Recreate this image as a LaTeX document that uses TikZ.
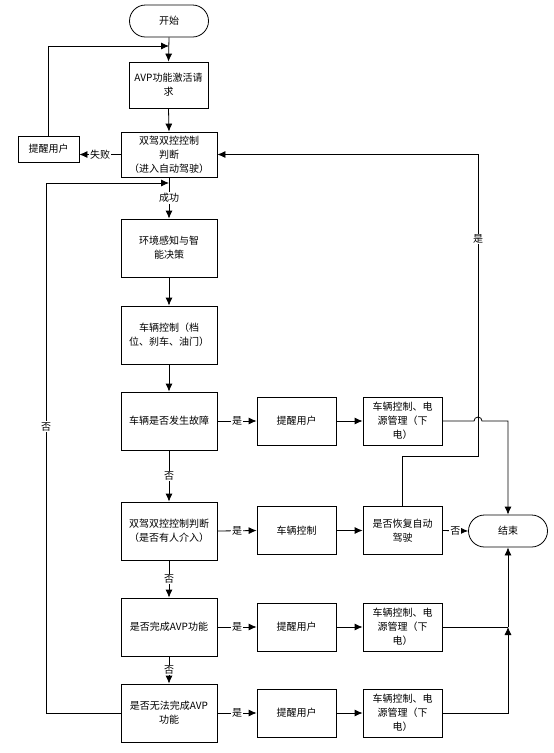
\documentclass[tikz,border=0pt]{standalone}
\usepackage{fontspec}
\newfontfamily\cjk{Noto Sans CJK SC}
\usetikzlibrary{arrows.meta}

\begin{document}
\begin{tikzpicture}[x=1pt,y=-1pt,line width=0.8pt,
        every node/.style={font=\cjk\fontsize{10}{14}\selectfont},
        box/.style={draw,align=center,inner sep=1pt,minimum width=96pt,minimum height=58pt},
        sbox/.style={draw,align=center,inner sep=1pt,minimum width=79pt,minimum height=48pt},
        term/.style={draw,rounded corners=16pt,minimum width=79pt,minimum height=32pt},
        lbl/.style={fill=white,inner sep=1pt}]
        \useasboundingbox (0,0) rectangle (554,753);
        \begin{scope}
            \node[term] (s0) at (169,21) {开始};
            \node[box,minimum width=79pt,minimum height=46pt] (m1) at (168.5,85) {AVP功能激活请\\求};
            \node[box,minimum height=45pt] (m2) at (169,154.5) {双驾双控控制\\判断\\（进入自动驾驶）};
            \node[draw,minimum width=61pt,minimum height=26pt] (t0) at (48.5,149) {提醒用户};
            \node[box] (m3) at (169,248) {环境感知与智\\能决策};
            \node[box] (m4) at (169,335) {车辆控制（档\\位、刹车、油门）};
            \node[box] (m5) at (169,421) {车辆是否发生故障};
            \node[box] (m6) at (169,531) {双驾双控控制判断\\（是否有人介入）};
            \node[box] (m7) at (169,627) {是否完成AVP功能};
            \node[box] (m8) at (169,713) {是否无法完成AVP\\功能};

            \node[sbox] (t1) at (296.5,421) {提醒用户};
            \node[sbox] (t2) at (296.5,530.5) {车辆控制};
            \node[sbox] (t3) at (296.5,627) {提醒用户};
            \node[sbox] (t4) at (296.5,713) {提醒用户};

            \node[sbox] (p1) at (402.5,421) {车辆控制、电\\源管理（下\\电）};
            \node[sbox] (p2) at (402.5,530.5) {是否恢复自动\\驾驶};
            \node[sbox] (p3) at (402.5,627) {车辆控制、电\\源管理（下\\电）};
            \node[sbox] (p4) at (402.5,713) {车辆控制、电\\源管理（下\\电）};

            \node[term] (e0) at (508,531) {结束};
        \end{scope}
        % corner points of the loops
        \coordinate (k1) at (169,46);
        \coordinate (k2) at (169,183);
        \coordinate (k3) at (46,183);
        \coordinate (r1) at (478,456);
        \coordinate (j1) at (478,421);
        \coordinate (q1) at (508,627);
        \begin{scope}[-{Latex[length=8pt,width=7pt]}]
            \draw (s0.south)--(m1.north);
            \draw (m1.south)--(m2.north);
            \draw (m2.west)--node[lbl]{失败}(m2.west -| t0.east);
            \draw (t0.north) |- (k1);
            \draw (m2.south)--node[lbl]{成功}(m3.north);
            \draw (m3.south)--(m4.north);
            \draw (m4.south)--(m5.north);
            \draw (m5.south)--node[lbl]{否}(m6.north);
            \draw (m6.south)--node[lbl]{否}(m7.north);
            \draw (m7.south)--node[lbl]{否}(m8.north);
            \draw (m8.west) -| node[lbl,pos=0.77]{否} (k3) -- (k2);
            \draw (m5.east)--node[lbl]{是}(t1.west);
            \draw (m6.east)--node[lbl]{是}(t2.west);
            \draw (m7.east)--node[lbl]{是}(t3.west);
            \draw (m8.east)--node[lbl]{是}(t4.west);
            \foreach \n in {1,2,3,4} {\draw (t\n.east)--(p\n.west);}
            \draw (p2.east)--node[lbl]{否}(e0.west);
            \draw (p2.north) |- (r1) |- node[lbl,pos=0.36]{是} (m2.east);
            \draw (p1.east) -- ([xshift=-4pt]j1) arc[start angle=180,end angle=0,radius=4pt] -- (p1.east -| e0) -- (e0.north);
            \draw (p4.east) -| (q1);
            \draw (q1) -- (e0.south);
        \end{scope}
        \draw (p3.east)--(q1);
    \end{tikzpicture}
\end{document}
